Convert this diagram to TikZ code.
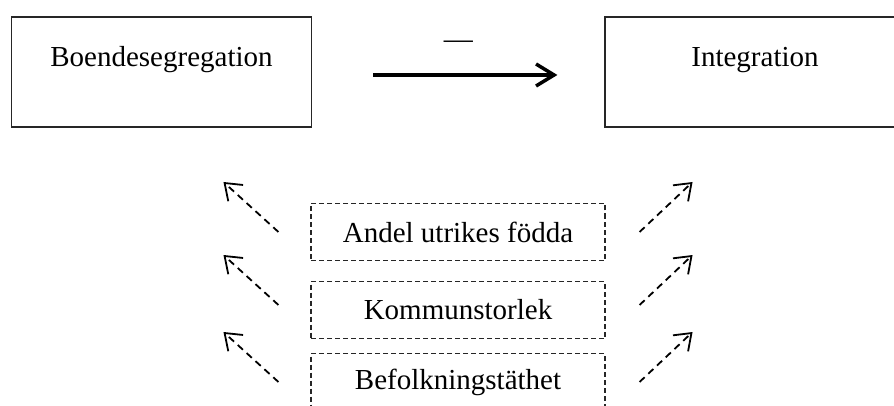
\documentclass[tikz,border=0pt]{standalone}
\usepackage{fontspec}
\setmainfont{Liberation Serif}
\usepackage{tikz}
\usetikzlibrary{arrows.meta}

\begin{document}
\begin{tikzpicture}[%
  x=1pt, y=-1pt,
  font=\fontsize{29}{35}\selectfont,
  mainbox/.style={draw=black!85, line width=1.2pt, minimum width=300pt,
    minimum height=110pt, text height=20pt, text depth=30pt},
  factor/.style={draw=black!85, line width=1.1pt, dash pattern=on 5pt off 3pt,
    minimum width=294pt, minimum height=57pt},
  mainarrow/.style={line width=3.5pt, -{Straight Barb[length=18pt,width=22pt]}},
  effect/.style={line width=1.8pt, dash pattern=on 7pt off 5pt,
    -{Straight Barb[length=15pt,width=22pt,line width=1.8pt]}}]
  \useasboundingbox (0,0) rectangle (894,406);
  \node[mainbox] (seg) at (161.5,72) {Boendesegregation};
  \node[mainbox] (integ) at (755,72) {Integration};
  \node[factor] (andel) at (458,232) {Andel utrikes födda};
  \node[factor] (kommun) at (458,310) {Kommunstorlek};
  \node[factor] (befolk) at (458,382) {Befolkningstäthet};
  \draw[mainarrow, shorten <=61pt, shorten >=47pt]
    ([yshift=-3pt]seg.east) -- node[midway, yshift=30pt] (sign) {—}
    ([yshift=-3pt]integ.west);
  \foreach \f/\dy in {andel/0,kommun/5,befolk/0}{
    \draw[effect] ([xshift=-32pt,yshift=\dy pt]\f.west) -- +(-55pt,50pt);
    \draw[effect] ([xshift=34pt,yshift=\dy pt]\f.east) -- +(53pt,50pt);
  }
\end{tikzpicture}
\end{document}
